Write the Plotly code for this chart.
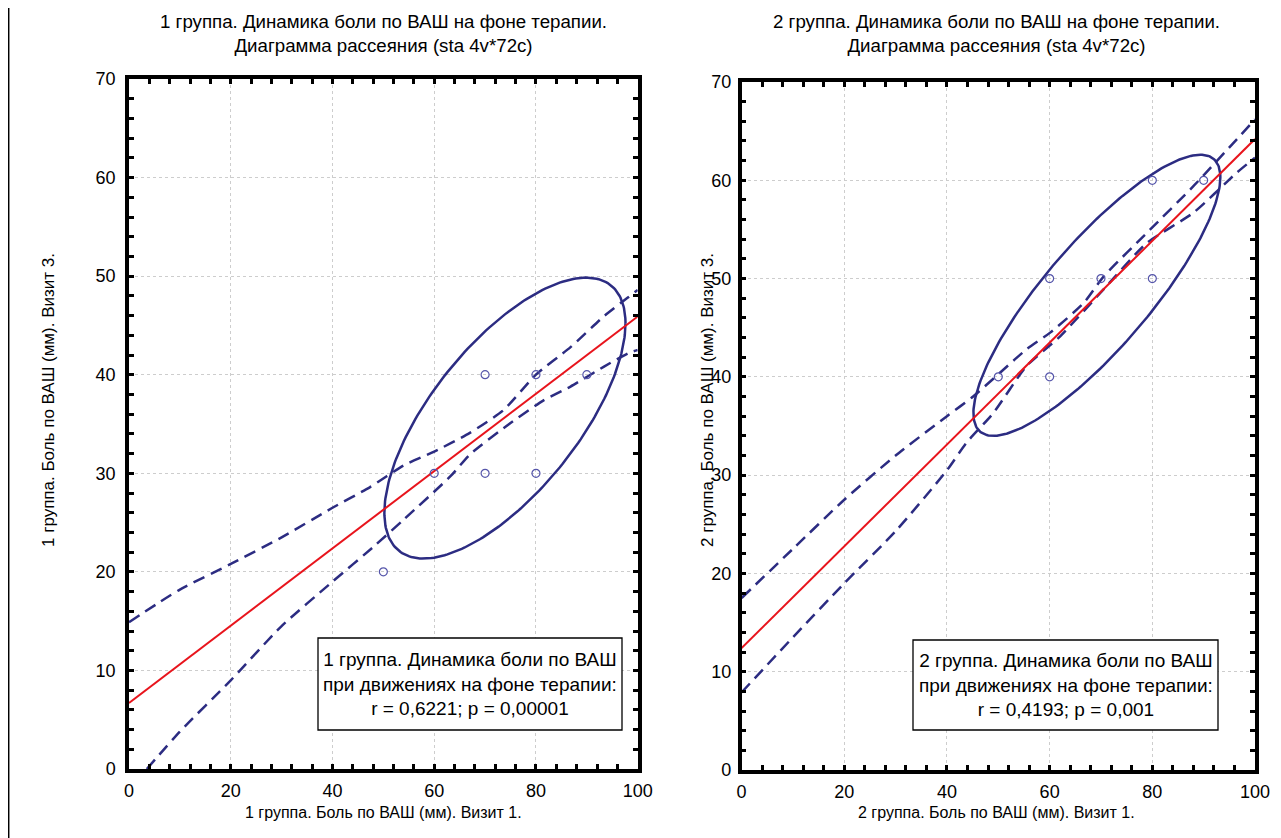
import numpy as np
import plotly.graph_objects as go

# page body has an 8px margin, so the figure is sized to fit the window
OFF = 8
W, H = 1281 - OFF, 838 - OFF

# ---------------- data ----------------
g1_x = [50, 60, 70, 70, 80, 80, 90]
g1_y = [20, 30, 40, 30, 40, 30, 40]
g2_x = [50, 60, 60, 70, 80, 80, 90]
g2_y = [40, 50, 40, 50, 60, 50, 60]

# regression lines (endpoints at x=0 and x=100)
g1_reg_x = [0, 100]
g1_reg_y = [6.7, 45.9]
g2_reg_x = [0, 100]
g2_reg_y = [12.4, 64.2]

# confidence bands
g1_up_x = [0, 10, 20, 30, 40, 47.4, 54, 60, 67, 73.6, 80, 86.8, 93.3, 98, 100]
g1_up_y = [14.9, 18.2, 20.8, 23.5, 26.5, 28.6, 30.8, 32.2, 34.1, 36.4, 40.0, 42.8, 45.9, 47.8, 48.6]
g1_lo_x = [3.5, 10, 20, 30, 40, 48.4, 54, 63.2, 67, 75, 81.5, 86.8, 93.3, 98.2, 100]
g1_lo_y = [0, 3.8, 9.0, 14.5, 19.0, 22.7, 25.3, 29.7, 31.9, 35.1, 37.4, 38.8, 40.8, 42.2, 42.5]

g2_up_x = [0, 10, 20, 30, 40, 45.1, 55.5, 60.1, 66.6, 70.5, 79.6, 88, 96.5, 100]
g2_up_y = [17.5, 22.5, 27.5, 32.0, 36.0, 38.0, 42.8, 44.5, 47.5, 50.2, 55.0, 59.4, 64.2, 66.2]
g2_lo_x = [0, 10, 20, 30, 40, 43.8, 49, 55.5, 62, 70.5, 78.9, 88, 96.5, 100]
g2_lo_y = [7.9, 13.5, 19.0, 24.3, 30.5, 33.3, 36.3, 41.1, 44.1, 48.9, 53.6, 56.7, 60.8, 62.3]

# ellipse parameters: centre, half-extents, phase (degrees)
g1_ell = dict(cx=73.9, cy=35.6, ax=23.7, ay=14.25, phase=47.6)
g2_ell = dict(cx=69.2, cy=48.3, ax=24.05, ay=14.3, phase=33.0)

x_ticks = [0, 20, 40, 60, 80, 100]
y_ticks = [0, 10, 20, 30, 40, 50, 60, 70]

titles = [
    "1 группа. Динамика боли по ВАШ на фоне терапии.<br>Диаграмма рассеяния (sta 4v*72c)",
    "2 группа. Динамика боли по ВАШ на фоне терапии.<br>Диаграмма рассеяния (sta 4v*72c)",
]
x_titles = ["1 группа. Боль по ВАШ (мм). Визит 1.", "2 группа. Боль по ВАШ (мм). Визит 1."]
y_titles = ["1 группа. Боль по ВАШ (мм). Визит 3.", "2 группа. Боль по ВАШ (мм). Визит 3."]
box_texts = [
    "1 группа. Динамика боли по ВАШ<br>при движениях на фоне терапии:<br>r = 0,6221; p = 0,00001",
    "2 группа. Динамика боли по ВАШ<br>при движениях на фоне терапии:<br>r = 0,4193; p = 0,001",
]

# ---------------- styling ----------------
NAVY = "#2c2c82"
RED = "#e8141c"
PT = "#5555aa"
NARROW = "Liberation Sans Narrow, Liberation Sans, Arial, sans-serif"
SANS = "Liberation Sans, Arial, sans-serif"


def px(x):  # screen x pixel -> paper fraction
    return (x - OFF) / W


def py(y):  # screen y pixel -> paper fraction
    return 1 - (y - OFF) / H


def ellipse(p):
    t = np.linspace(0, 2 * np.pi, 241)
    ph = np.deg2rad(p["phase"])
    return p["cx"] + p["ax"] * np.cos(t), p["cy"] + p["ay"] * np.cos(t + ph)


fig = go.Figure()

groups = [
    dict(x=g1_x, y=g1_y, rx=g1_reg_x, ry=g1_reg_y, ux=g1_up_x, uy=g1_up_y,
         lx=g1_lo_x, ly=g1_lo_y, ell=g1_ell),
    dict(x=g2_x, y=g2_y, rx=g2_reg_x, ry=g2_reg_y, ux=g2_up_x, uy=g2_up_y,
         lx=g2_lo_x, ly=g2_lo_y, ell=g2_ell),
]

for i, g in enumerate(groups):
    xa = "x" if i == 0 else "x2"
    ya = "y" if i == 0 else "y2"
    ex, ey = ellipse(g["ell"])
    fig.add_trace(go.Scatter(x=ex, y=ey, mode="lines", xaxis=xa, yaxis=ya,
                             line=dict(color=NAVY, width=2.5), showlegend=False))
    for bx, by in ((g["ux"], g["uy"]), (g["lx"], g["ly"])):
        fig.add_trace(go.Scatter(x=bx, y=by, mode="lines", xaxis=xa, yaxis=ya,
                                 line=dict(color=NAVY, width=2.5, dash="12px,7px",
                                           shape="spline", smoothing=0.6),
                                 showlegend=False))
    fig.add_trace(go.Scatter(x=g["rx"], y=g["ry"], mode="lines", xaxis=xa, yaxis=ya,
                             line=dict(color=RED, width=2), showlegend=False))
    fig.add_trace(go.Scatter(x=g["x"], y=g["y"], mode="markers", xaxis=xa, yaxis=ya,
                             marker=dict(symbol="circle-open", size=8, color=PT,
                                         line=dict(width=1.2, color=PT)),
                             showlegend=False))

axis_common = dict(
    showline=True, linecolor="black", linewidth=3.5, mirror="ticks",
    ticks="inside", ticklen=5, tickwidth=2.5, tickcolor="black",
    showgrid=True, gridcolor="#cdcdcd", gridwidth=1, griddash="3px,3px",
    zeroline=False, tickfont=dict(family=SANS, size=18, color="black"),
    fixedrange=True, automargin=False,
)
minor_common = dict(ticks="inside", ticklen=5, tickwidth=2.5, tickcolor="black", showgrid=False)

x_doms = [[px(129), px(637.7)], [px(741.6), px(1255)]]
y_doms = [[py(769), py(79)], [py(770), py(82)]]

fig.update_layout(
    width=W, height=H, margin=dict(l=0, r=0, t=0, b=0, autoexpand=False),
    paper_bgcolor="white", plot_bgcolor="white",
    xaxis=dict(domain=x_doms[0], range=[0, 100], tickvals=x_ticks, anchor="y",
               minor=dict(dtick=4, **minor_common), ticklabelstandoff=3, **axis_common),
    yaxis=dict(domain=y_doms[0], range=[0, 70], tickvals=y_ticks, anchor="x",
               minor=dict(dtick=2, **minor_common), ticklabelstandoff=6, **axis_common),
    xaxis2=dict(domain=x_doms[1], range=[0, 100], tickvals=x_ticks, anchor="y2",
                minor=dict(dtick=4, **minor_common), ticklabelstandoff=3, **axis_common),
    yaxis2=dict(domain=y_doms[1], range=[0, 70], tickvals=y_ticks, anchor="x2",
                minor=dict(dtick=2, **minor_common), ticklabelstandoff=3, **axis_common),
)

ann = []
shapes = []
centers = [(383, 0), (996, 1)]
for (cxp, i) in centers:
    ann.append(dict(text=titles[i], x=px(cxp), y=py(33), xref="paper", yref="paper",
                    showarrow=False, align="center", xanchor="center", yanchor="middle",
                    font=dict(family=NARROW, size=18.7, color="black")))
    ann.append(dict(text=x_titles[i], x=px(cxp), y=py(812), xref="paper", yref="paper",
                    showarrow=False, xanchor="center", yanchor="middle",
                    font=dict(family=NARROW, size=16, color="black")))
ann.append(dict(text=y_titles[0], x=px(49), y=py(400), xref="paper", yref="paper",
                showarrow=False, textangle=-90, xanchor="center", yanchor="middle",
                font=dict(family=NARROW, size=17, color="black")))
ann.append(dict(text=y_titles[1], x=px(708), y=py(400), xref="paper", yref="paper",
                showarrow=False, textangle=-90, xanchor="center", yanchor="middle",
                font=dict(family=NARROW, size=17, color="black")))

boxes = [(318, 638, 622, 730), (913, 640, 1218, 730)]
for i, (x0, y0, x1, y1) in enumerate(boxes):
    shapes.append(dict(type="rect", xref="paper", yref="paper",
                       x0=px(x0), x1=px(x1), y0=py(y0), y1=py(y1),
                       line=dict(color="black", width=1.3), fillcolor="white", layer="above"))
    ann.append(dict(text=box_texts[i], x=px((x0 + x1) / 2), y=py((y0 + y1) / 2),
                    xref="paper", yref="paper", showarrow=False, align="center",
                    xanchor="center", yanchor="middle",
                    font=dict(family=NARROW, size=19, color="black")))

# page border at left edge
shapes.append(dict(type="line", xref="paper", yref="paper", x0=px(8.7), x1=px(8.7), y0=0, y1=1,
                   line=dict(color="black", width=1.5)))

fig.update_layout(annotations=ann, shapes=shapes)
fig.write_html("out.html")
